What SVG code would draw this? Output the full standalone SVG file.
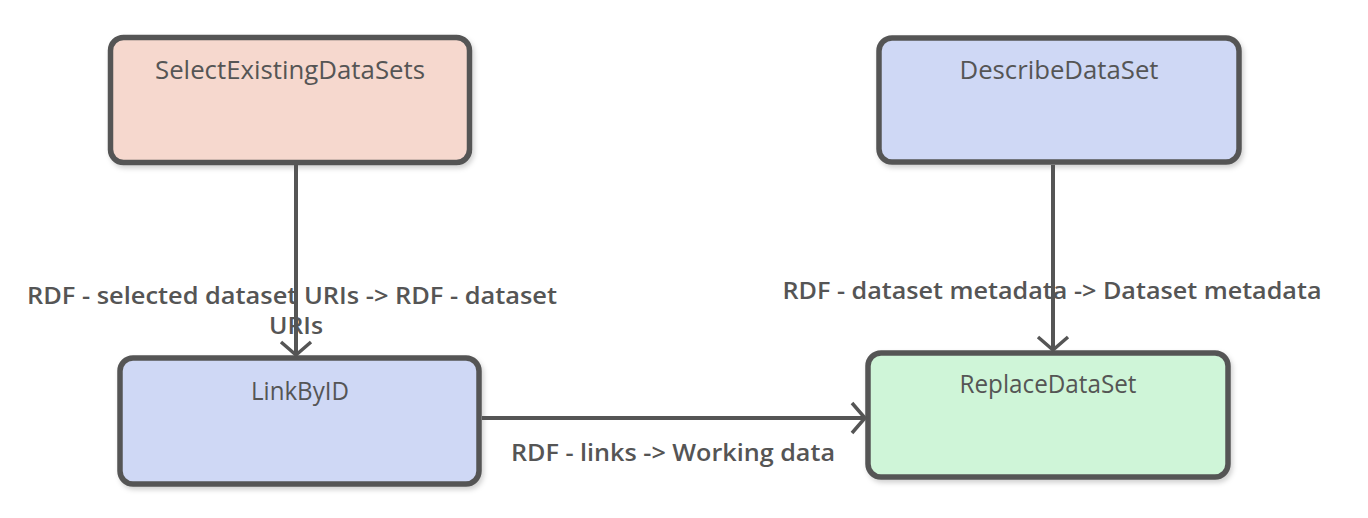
<svg xmlns="http://www.w3.org/2000/svg" width="1368" height="518" viewBox="0 0 1368 518">
<style>
.node rect{stroke:#555555;stroke-width:5.5}
.title{font-family:"Open Sans","Liberation Sans",sans-serif;font-size:25px;fill:#555555;text-anchor:middle}
.lbl{font-family:"Open Sans","Liberation Sans",sans-serif;font-size:24px;font-weight:600;fill:#555555;text-anchor:middle}
.conn{stroke:#555555;stroke-width:4;fill:none}
</style>
<defs>
<filter id="sh" x="-10%" y="-10%" width="125%" height="130%">
<feDropShadow dx="2" dy="3" stdDeviation="2.5" flood-color="#000" flood-opacity="0.18"/>
</filter>
<marker id="arr" markerUnits="userSpaceOnUse" viewBox="-16 -17 20 34" markerWidth="20" markerHeight="34" refX="0" refY="0" orient="auto">
<path d="M-13,-15 L0,0 L-13,15" fill="none" stroke="#555555" stroke-width="3.5"/>
</marker>
</defs>
<g id="SelectExistingDataSets" class="node">
<rect x="110.5" y="37.5" width="359" height="125" rx="13" fill="#F6D8CE" filter="url(#sh)"/>
<text class="title" x="290" y="79" textLength="270" lengthAdjust="spacingAndGlyphs">SelectExistingDataSets</text>
</g>
<g id="DescribeDataSet" class="node">
<rect x="879" y="38" width="360" height="124" rx="13" fill="#CFD8F5" filter="url(#sh)"/>
<text class="title" x="1059" y="79" textLength="199" lengthAdjust="spacingAndGlyphs">DescribeDataSet</text>
</g>
<g id="LinkByID" class="node">
<rect x="120" y="358" width="359" height="126" rx="13" fill="#CFD8F5" filter="url(#sh)"/>
<text class="title" x="300" y="400" textLength="98" lengthAdjust="spacingAndGlyphs">LinkByID</text>
</g>
<g id="ReplaceDataSet" class="node">
<rect x="868" y="353" width="360" height="124" rx="13" fill="#CFF5D8" filter="url(#sh)"/>
<text class="title" x="1048" y="393" textLength="177" lengthAdjust="spacingAndGlyphs">ReplaceDataSet</text>
</g>
<g id="labels">
<text class="lbl" x="292" y="304" textLength="530" lengthAdjust="spacingAndGlyphs">RDF - selected dataset URIs -&gt; RDF - dataset</text>
<text class="lbl" x="296" y="334" textLength="54" lengthAdjust="spacingAndGlyphs">URIs</text>
<text class="lbl" x="1052" y="299" textLength="539" lengthAdjust="spacingAndGlyphs">RDF - dataset metadata -&gt; Dataset metadata</text>
<text class="lbl" x="673" y="461" textLength="324" lengthAdjust="spacingAndGlyphs">RDF - links -&gt; Working data</text>
</g>
<g id="connectors">
<path class="conn" d="M296,165 L296,355" marker-end="url(#arr)"/>
<path class="conn" d="M1053,165 L1053,350" marker-end="url(#arr)"/>
<path class="conn" d="M482,418 L865,418" marker-end="url(#arr)"/>
</g>
</svg>
